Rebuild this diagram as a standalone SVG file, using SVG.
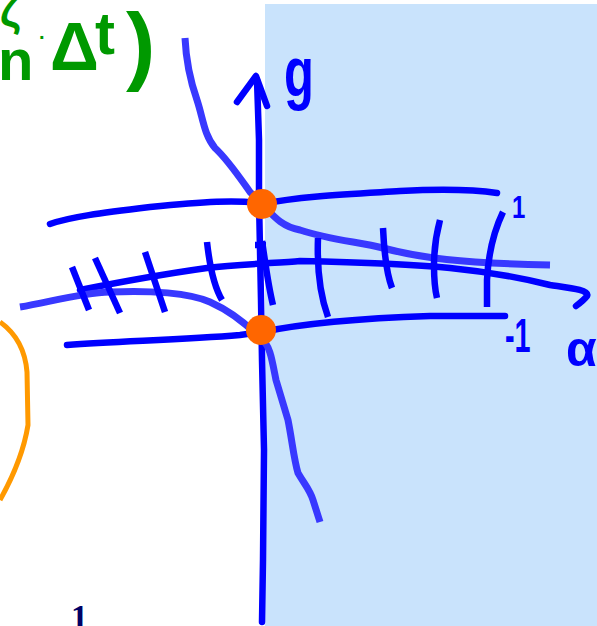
<svg xmlns="http://www.w3.org/2000/svg" width="597" height="626" viewBox="0 0 597 626">
<style>
.ax{fill:none;stroke:#0000ff;stroke-width:6.5;stroke-linecap:round;stroke-linejoin:round}
.cv{fill:none;stroke:#3838ff;stroke-width:7;stroke-linecap:butt;stroke-linejoin:round}
.tk{fill:none;stroke:#0000ff;stroke-width:6.5;stroke-linecap:butt}
.dot{fill:#ff6600}
.gr{fill:#009900;font-family:"Liberation Sans",sans-serif;font-weight:bold}
.bl{fill:#0000ff;font-family:"Liberation Sans",sans-serif;font-weight:bold}
</style>
<rect x="265" y="4" width="332" height="622" fill="#c9e3fc"/>
<g id="note">
<text class="gr" x="0" y="26" font-size="44">ζ</text>
<text class="gr" x="-2" y="80" font-size="58">n</text>
<text class="gr" x="39" y="44" font-size="20">·</text>
<text class="gr" x="50" y="70" font-size="68">Δ</text>
<text class="gr" x="95" y="54" font-size="60">t</text>
<text class="gr" x="126" y="74" font-size="88">)</text>
</g>
<g id="orange-arc">
<path d="M0,322 C14,332 25,348 27,372 L28,425 C24,450 14,475 0,500" fill="none" stroke="#ff9900" stroke-width="5"/>
</g>
<g id="connectors">
<path id="y-axis" class="ax" d="M262,622 L263,560 L264,450 L262,360 L261,300 L260,250 L259,200 L259,140 L257,80"/>
<path class="ax" d="M237,102 L256,76 L267,106"/>
<path id="upper-line" class="ax" d="M50,224 C70,217 100,213 150,207 C200,202 240,199 262,204 C300,196 350,194 400,191 C440,189 470,189 497,193"/>
<path id="lower-line" class="ax" d="M67,345 C120,341 180,340 240,335 L262,332 C310,322 370,318 430,316 L505,316"/>
<path id="alpha-axis" class="ax" d="M80,290 C120,282 150,276 207,268 C240,264 280,263 300,261 C350,262 420,265 450,268 C500,273 530,280 550,285 C570,288 590,290 587,296 C584,300 580,303 576,306"/>
<path id="upper-curve" class="cv" d="M185,38 C186,60 190,80 197,100 C203,118 204,135 215,148 C228,160 240,178 250,192 L262,204 C272,214 280,226 300,230 C330,240 360,242 383,248 C420,258 460,263 550,265"/>
<path id="lower-curve" class="cv" d="M20,307 C50,302 80,293 110,292 C150,290 190,293 210,302 C230,311 245,322 262,340 C270,345 272,360 276,380 L288,420 C292,440 294,460 298,473 C305,485 310,490 313,500 L320,522"/>
<g id="ticks">
<path class="tk" d="M72,267 L89,310"/>
<path class="tk" d="M95,258 L120,313"/>
<path class="tk" d="M145,252 L165,312"/>
<path class="tk" d="M207,242 C209,260 213,285 222,300"/>
<path class="tk" d="M262,241 C265,260 268,285 273,305"/>
<path class="tk" d="M255,245 L266,245" stroke-width="12"/>
<path class="tk" d="M318,238 C317,265 320,295 328,317"/>
<path class="tk" d="M383,228 C384,250 386,272 392,288"/>
<path class="tk" d="M440,220 C436,235 434,250 434,265 C434,280 435,290 437,298"/>
<path class="tk" d="M503,212 C492,235 488,260 487,280 L487,307"/>
</g>
</g>
<g id="dots">
<circle class="dot" cx="262" cy="204" r="15"/>
<circle class="dot" cx="261" cy="330" r="15"/>
</g>
<g id="labels">
<text class="bl" font-size="70" transform="translate(284,96) scale(0.7,1)">g</text>
<text class="bl" font-size="32" transform="translate(512,218) scale(0.75,1)">1</text>
<text class="bl" font-size="48" transform="translate(505,352) scale(0.6,1)">-1</text>
<text class="bl" x="566" y="366" font-size="50">α</text>
<text x="71" y="628" font-size="34" font-weight="bold" fill="#000066" font-family="Liberation Serif,serif">1</text>
</g>
</svg>
